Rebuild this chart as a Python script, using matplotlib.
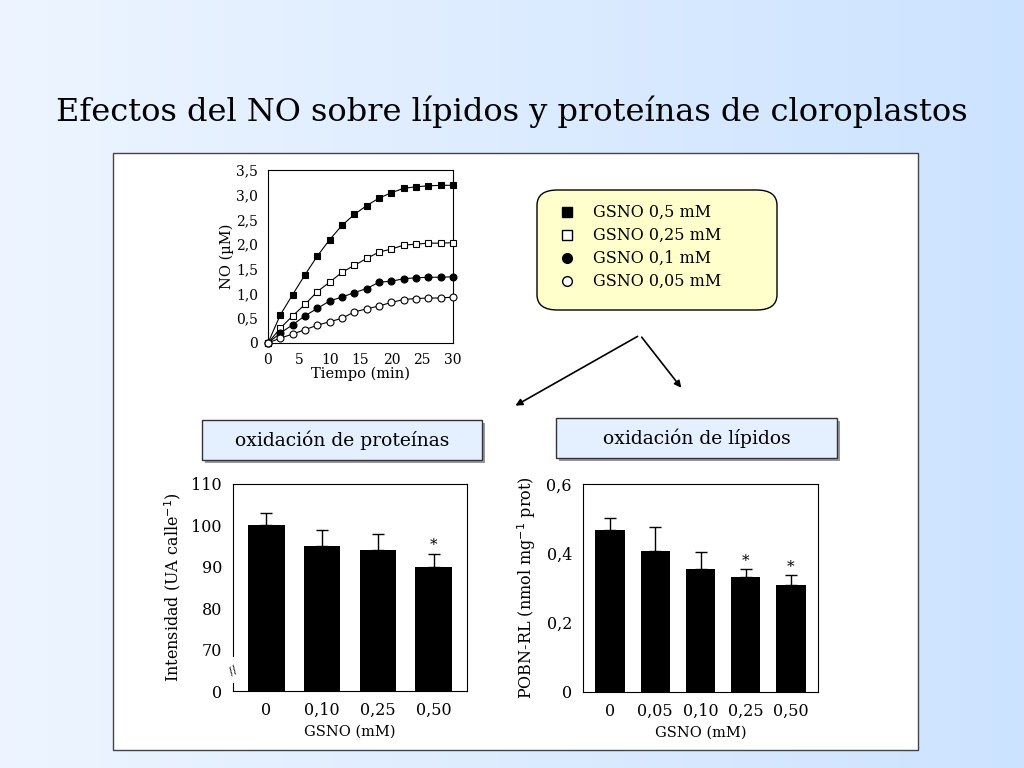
import numpy as np
import matplotlib.pyplot as plt
from matplotlib.patches import FancyBboxPatch, Rectangle

# -- data --
tiempo = [0, 2, 4, 6, 8, 10, 12, 14, 16, 18, 20, 22, 24, 26, 28, 30]
no_05 = [0, 0.57, 0.98, 1.38, 1.76, 2.09, 2.38, 2.60, 2.78, 2.93, 3.04, 3.13, 3.16, 3.18, 3.19, 3.19]
no_025 = [0, 0.30, 0.55, 0.78, 1.04, 1.23, 1.43, 1.57, 1.71, 1.84, 1.90, 1.98, 2.00, 2.02, 2.02, 2.03]
no_01 = [0, 0.20, 0.37, 0.55, 0.70, 0.85, 0.93, 1.02, 1.10, 1.23, 1.25, 1.30, 1.32, 1.33, 1.33, 1.34]
no_005 = [0, 0.10, 0.18, 0.27, 0.36, 0.43, 0.50, 0.63, 0.69, 0.75, 0.82, 0.88, 0.90, 0.91, 0.91, 0.93]
series_labels = ["GSNO 0,5 mM", "GSNO 0,25 mM", "GSNO 0,1 mM", "GSNO 0,05 mM"]

prot_labels = ["0", "0,10", "0,25", "0,50"]
prot_values = [100, 95, 94, 90]
prot_err = [3, 4, 4, 3]
prot_star = [False, False, False, True]

lip_labels = ["0", "0,05", "0,10", "0,25", "0,50"]
lip_values = [0.467, 0.408, 0.355, 0.332, 0.308]
lip_err = [0.035, 0.068, 0.049, 0.024, 0.030]
lip_star = [False, False, False, True, True]

W, H = 1024, 768
plt.rcParams["font.family"] = "DejaVu Serif"


def px_axes(fig, x0, y0, x1, y1):
    # axes from pixel box (top-left origin)
    return fig.add_axes([x0 / W, 1 - y1 / H, (x1 - x0) / W, (y1 - y0) / H])


fig = plt.figure(figsize=(W / 100, H / 100), dpi=100)

# background gradient
bg = fig.add_axes([0, 0, 1, 1])
t = np.linspace(0, 1, 256)
g = np.stack([0.93 - 0.13 * t, 0.96 - 0.07 * t, np.ones_like(t)], axis=-1)
bg.imshow(g[None, :, :], aspect="auto", extent=[0, 1, 0, 1])
bg.set_xlim(0, 1)
bg.set_ylim(0, 1)
bg.axis("off")

fig.text(0.5, 1 - 112 / H, "Efectos del NO sobre lípidos y proteínas de cloroplastos",
         ha="center", va="center", fontsize=23, family="DejaVu Serif")

# white panel
bg.add_patch(Rectangle((113 / W, 1 - 750 / H), (918 - 113) / W, (750 - 153) / H,
                       facecolor="white", edgecolor="#444444", lw=1))

# -- line chart --
ax = px_axes(fig, 268, 170, 453, 343)
markers = [("s", "black"), ("s", "white"), ("o", "black"), ("o", "white")]
for ys, (m, fc), lab in zip([no_05, no_025, no_01, no_005], markers, series_labels):
    ax.plot(tiempo, ys, color="black", lw=0.8, marker=m, ms=5, mfc=fc, mec="black",
            mew=0.8, label=lab, clip_on=False, zorder=3)
ax.set_xlim(0, 30)
ax.set_ylim(0, 3.5)
ax.set_xticks([0, 5, 10, 15, 20, 25, 30])
ax.set_yticks([0, 0.5, 1, 1.5, 2, 2.5, 3, 3.5])
ax.set_yticklabels(["0", "0,5", "1,0", "1,5", "2,0", "2,5", "3,0", "3,5"])
ax.tick_params(labelsize=10, length=0, pad=7)
ax.set_xlabel("Tiempo (min)", fontsize=10.5, labelpad=0)
ax.set_ylabel("NO (µM)", fontsize=10.5, labelpad=2)

# legend box
bg.add_patch(FancyBboxPatch((537 / W, 1 - 310 / H), (777 - 537) / W, (310 - 190) / H,
                            boxstyle="round,pad=0,rounding_size=0.02", facecolor="#FFFFCC",
                            edgecolor="black", lw=1))
for i, ((m, fc), lab) in enumerate(zip(markers, series_labels)):
    yy = 1 - (212 + i * 23) / H
    bg.plot([567 / W], [yy], marker=m, ms=7, mfc=fc, mec="black", mew=1)
    bg.text(593 / W, yy, lab, va="center", fontsize=11.5)

# arrows
for tx, ty in [(513, 407), (683, 390)]:
    bg.annotate("", xy=(tx / W, 1 - ty / H), xytext=(640 / W, 1 - 335 / H),
                arrowprops=dict(arrowstyle="-|>", color="black", lw=1.2))

# label boxes
for (x0, y0, x1, y1), txt in [((202, 420, 482, 460), "oxidación de proteínas"),
                              ((556, 418, 837, 458), "oxidación de lípidos")]:
    bg.add_patch(Rectangle(((x0 + 3) / W, 1 - (y1 + 3) / H), (x1 - x0) / W, (y1 - y0) / H,
                           facecolor="#999999", edgecolor="none"))
    bg.add_patch(Rectangle((x0 / W, 1 - y1 / H), (x1 - x0) / W, (y1 - y0) / H,
                           facecolor="#E4F0FF", edgecolor="#333333", lw=1))
    bg.text((x0 + x1) / 2 / W, 1 - (y0 + y1) / 2 / H, txt, ha="center", va="center", fontsize=13.5)


# -- protein bars (broken axis: 0, then 70..110) --
def shift(v):
    return v - 60


ax2 = px_axes(fig, 233, 484, 467, 691)
xp = np.arange(len(prot_values))
ax2.bar(xp, [shift(v) for v in prot_values], width=0.65, color="black")
ax2.errorbar(xp, [shift(v) for v in prot_values], yerr=[[0] * len(prot_err), prot_err],
             fmt="none", ecolor="black", elinewidth=1, capsize=4)
for x, v, e, s in zip(xp, prot_values, prot_err, prot_star):
    if s:
        ax2.text(x, shift(v + e) + 0.5, "*", ha="center", va="bottom", fontsize=11)
ax2.set_xlim(-0.6, 3.6)
ax2.set_ylim(0, 50)
ax2.set_yticks([0, 10, 20, 30, 40, 50])
ax2.set_yticklabels(["0", "70", "80", "90", "100", "110"])
ax2.set_xticks(xp)
ax2.set_xticklabels(prot_labels)
ax2.tick_params(labelsize=11.5, length=0, pad=8)
ax2.set_xlabel("GSNO (mM)", fontsize=10.5, labelpad=4)
ax2.set_ylabel("Intensidad (UA calle$^{-1}$)", fontsize=11.5, labelpad=6)
ax2.text(0, 5, "//", transform=ax2.get_yaxis_transform(), ha="center", va="center",
         fontsize=8, rotation=30, backgroundcolor="white")

# -- lipid bars --
ax3 = px_axes(fig, 583, 484, 818, 692)
xl = np.arange(len(lip_values))
ax3.bar(xl, lip_values, width=0.65, color="black")
ax3.errorbar(xl, lip_values, yerr=[[0] * len(lip_err), lip_err],
             fmt="none", ecolor="black", elinewidth=1, capsize=4)
for x, v, e, s in zip(xl, lip_values, lip_err, lip_star):
    if s:
        ax3.text(x, v + e + 0.003, "*", ha="center", va="bottom", fontsize=11)
ax3.set_xlim(-0.6, 4.6)
ax3.set_ylim(0, 0.6)
ax3.set_yticks([0, 0.2, 0.4, 0.6])
ax3.set_yticklabels(["0", "0,2", "0,4", "0,6"])
ax3.set_xticks(xl)
ax3.set_xticklabels(lip_labels)
ax3.tick_params(labelsize=11.5, length=0, pad=8)
ax3.set_xlabel("GSNO (mM)", fontsize=10.5, labelpad=4)
ax3.set_ylabel("POBN-RL (nmol mg$^{-1}$ prot)", fontsize=11.5, labelpad=6)

fig.savefig("out.png", dpi=100)
